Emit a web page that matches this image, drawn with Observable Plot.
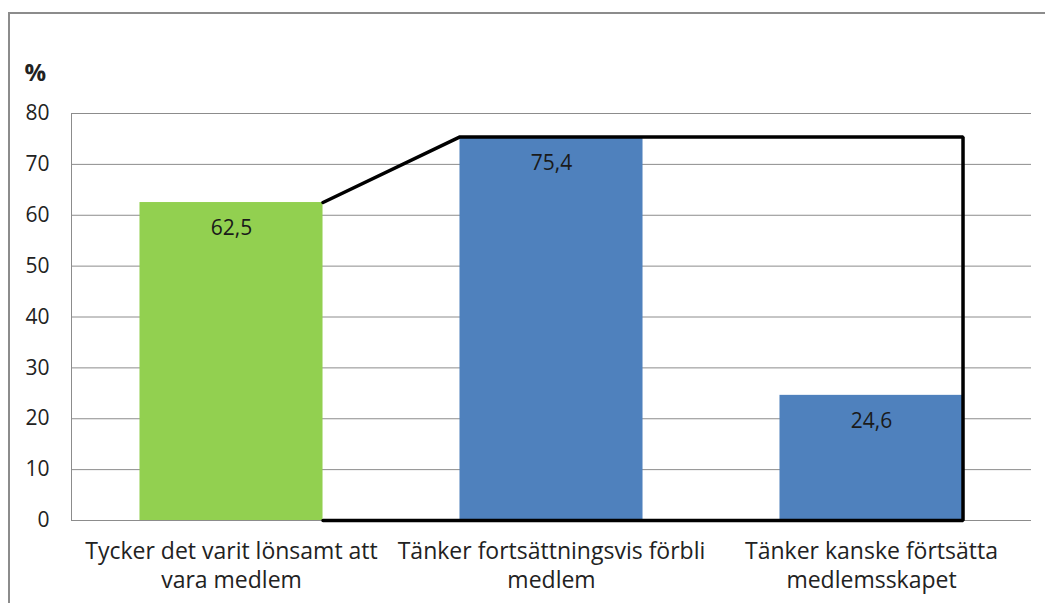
<!DOCTYPE html>
<html>
<head>
<meta charset="utf-8">
<script src="https://cdn.jsdelivr.net/npm/d3@7"></script>
<script src="https://cdn.jsdelivr.net/npm/@observablehq/plot@0.6"></script>
<style>
  html, body { margin: 0; padding: 0; background: #fff; overflow: hidden; }
  #wrap { position: relative; width: 1045px; height: 603px; }
  #border { position: absolute; left: 8px; top: 12px; width: 1200px; height: 800px; border: 2px solid #8c8c8c; box-sizing: border-box; }
  #chart { position: absolute; left: 0; top: 0; }
</style>
</head>
<body>
<div id="wrap"><div id="border"></div><div id="chart"></div></div>
<script>
const categories = [
  "Tycker det varit lönsamt att\nvara medlem",
  "Tänker fortsättningsvis förbli\nmedlem",
  "Tänker kanske förtsätta\nmedlemsskapet"
];
const values = [62.5, 75.4, 24.6];
const valueLabels = ["62,5", "75,4", "24,6"];
const colors = ["#92D050", "#4F81BD", "#4F81BD"];
const yTicks = [0, 10, 20, 30, 40, 50, 60, 70, 80];

const hw = 0.286; // half bar width in category units
const bars = categories.map((c, i) => ({i, value: values[i], label: valueLabels[i], color: colors[i]}));
const outline = [
  {x: 0 + hw, y: values[0]},
  {x: 1 - hw, y: values[1]},
  {x: 2 + hw, y: values[1]},
  {x: 2 + hw, y: 0},
  {x: 0 + hw, y: 0}
];

const font = "'Open Sans', sans-serif";
const chart = Plot.plot({
  width: 1045,
  height: 603,
  marginLeft: 71,
  marginRight: 14,
  marginTop: 113,
  marginBottom: 83,
  style: {fontFamily: font, background: "transparent"},
  x: {type: "linear", domain: [-0.5, 2.5]},
  y: {domain: [0, 80]},
  marks: [
    Plot.gridY(yTicks, {stroke: "#8c8c8c", strokeOpacity: 1}),
    Plot.ruleX([-0.5], {stroke: "#8c8c8c", y1: 0, y2: 80}),
    Plot.axisY(yTicks, {tickSize: 0, tickPadding: 22, fontSize: 21, fill: "#222", label: null}),
    Plot.axisX([0, 1, 2], {tickSize: 0, tickPadding: 18, fontSize: 23, fill: "#222", lineHeight: 1.25, tickFormat: i => categories[i], label: null}),
    Plot.rect(bars, {x1: d => d.i - hw, x2: d => d.i + hw, y1: 0, y2: "value", fill: "color"}),
    Plot.line(outline, {x: "x", y: "y", stroke: "#000", strokeWidth: 3.5, strokeLinejoin: "miter", curve: "linear"}),
    Plot.text(bars, {x: "i", y: "value", text: "label", dy: 26, fontSize: 21, fill: "#1a1a1a"}),
    Plot.text(["%"], {frameAnchor: "top-left", dx: -47, dy: -40, lineAnchor: "middle", text: d => d, textAnchor: "start", fontSize: 24, fontWeight: "bold", fill: "#222"})
  ]
});
document.getElementById("chart").appendChild(chart);
</script>
</body>
</html>
